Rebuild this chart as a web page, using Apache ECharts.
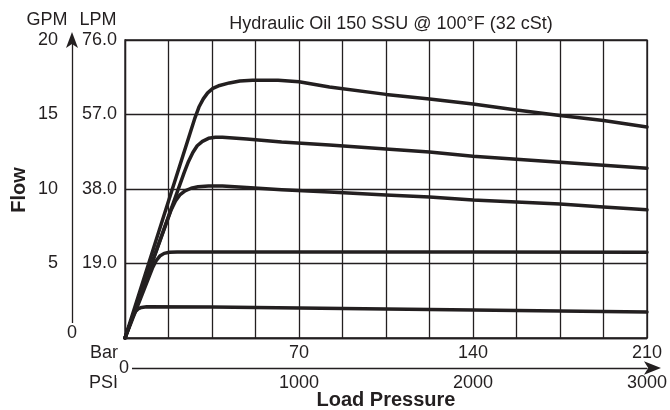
<!DOCTYPE html>
<html>
<head>
<meta charset="utf-8">
<script src="https://cdn.jsdelivr.net/npm/echarts@6/dist/echarts.min.js"></script>
<style>
html,body{margin:0;padding:0;background:#fff;}
#chart{width:670px;height:410px;}
</style>
</head>
<body>
<div id="chart"></div>
<script>
// ---- data (PSI, GPM) ----
const curve1 = [[0,0],[400,14.7],[425,15.5],[450,16.05],[475,16.45],[505,16.75],[544,16.95],[600,17.12],[660,17.25],[733,17.3],[880,17.3],[1000,17.2],[1175,16.85],[1500,16.35],[1750,16.04],[2000,15.7],[2250,15.3],[2500,14.93],[2750,14.6],[3000,14.16]];
const curve2 = [[0,0],[340,11.1],[365,11.85],[390,12.45],[415,12.9],[445,13.2],[480,13.4],[520,13.47],[560,13.47],[700,13.35],[900,13.15],[1175,12.95],[1500,12.68],[1750,12.48],[2000,12.2],[2250,12.0],[2500,11.8],[2750,11.6],[3000,11.4]];
const curve3 = [[0,0],[265,8.6],[290,9.2],[315,9.6],[345,9.88],[380,10.05],[420,10.15],[480,10.2],[560,10.2],[700,10.1],[900,9.95],[1175,9.8],[1500,9.6],[1750,9.46],[2000,9.26],[2250,9.13],[2500,8.99],[2750,8.8],[3000,8.6]];
const curve4 = [[0,0],[160,4.75],[180,5.2],[200,5.5],[225,5.68],[255,5.76],[300,5.78],[1000,5.78],[2000,5.77],[3000,5.75]];
const curve5 = [[0,0],[45,1.45],[60,1.78],[75,1.95],[95,2.05],[125,2.1],[500,2.08],[1000,2.02],[1500,1.95],[2000,1.88],[2500,1.82],[3000,1.75]];

const gpmTicks = ['0','5','10','15','20'];
const lpmTicks = ['','19.0','38.0','57.0','76.0'];
const barTicks = ['','70','140','210'];
const psiTicks = ['','1000','2000','3000'];

const INK = '#231f20';
const FONT = '"Liberation Sans", Arial, Helvetica, sans-serif';
const FS = 18;

const chart = echarts.init(document.getElementById('chart'), null, {renderer:'canvas'});

function mkSeries(d){
  return {type:'line', data:d, xAxisIndex:0, yAxisIndex:0, showSymbol:false, symbol:'none',
    smooth:false, lineStyle:{color:INK, width:3.5, join:'round', cap:'round'}, silent:true, animation:false};
}

const option = {
  animation:false,
  backgroundColor:'#fff',
  textStyle:{fontFamily:FONT, color:INK},
  title:{text:'Hydraulic Oil 150 SSU @ 100°F (32 cSt)', left:386, top:10, textAlign:'center',
    textStyle:{fontFamily:FONT, fontSize:FS, fontWeight:'normal', color:INK}},
  grid:{left:125, right:22, top:40, bottom:72, show:true, borderColor:INK, borderWidth:1.3, containLabel:false},
  xAxis:[
    {type:'value', min:0, max:3000, interval:250, position:'bottom',
      axisLine:{show:true, lineStyle:{color:INK, width:1.3}}, axisTick:{show:false}, axisLabel:{show:false},
      splitLine:{show:true, lineStyle:{color:INK, width:1.3}}},
    {type:'value', min:0, max:3000, interval:1000, position:'bottom', offset:30,
      axisLine:{show:true, onZero:false, symbol:['none','arrow'], symbolSize:[10,17], symbolOffset:[0,14], lineStyle:{color:INK, width:1.3}},
      axisTick:{show:false}, splitLine:{show:false},
      axisLabel:{inside:true, margin:6, fontSize:FS, color:INK, fontFamily:FONT,
        formatter:function(v){return barTicks[Math.round(v/1000)];}}},
    {type:'value', min:0, max:3000, interval:1000, position:'bottom', offset:30,
      axisLine:{show:false}, axisTick:{show:false}, splitLine:{show:false},
      axisLabel:{margin:6, fontSize:FS, color:INK, fontFamily:FONT,
        formatter:function(v){return psiTicks[Math.round(v/1000)];}}}
  ],
  yAxis:[
    {type:'value', min:0, max:20, interval:5, position:'left',
      axisLine:{show:true, lineStyle:{color:INK, width:1.3}}, axisTick:{show:false},
      axisLabel:{margin:8, fontSize:FS, color:INK, fontFamily:FONT,
        formatter:function(v){return lpmTicks[Math.round(v/5)];}},
      splitLine:{show:true, lineStyle:{color:INK, width:1.3}}},
    {type:'value', min:0, max:20, interval:5, position:'left', offset:53,
      axisLine:{show:true, onZero:false, symbol:['none','arrow'], symbolSize:[9,16], symbolOffset:[0,8], lineStyle:{color:INK, width:1.3}},
      axisTick:{show:false}, splitLine:{show:false},
      axisLabel:{margin:14, fontSize:FS, color:INK, fontFamily:FONT,
        formatter:function(v){var i=Math.round(v/5); return i===0?'':gpmTicks[i];}}}
  ],
  graphic:[
    {type:'text', x:47, y:20, style:{text:'GPM', font:FS+'px '+FONT, fill:INK, align:'center', verticalAlign:'middle'}},
    {type:'text', x:98, y:20, style:{text:'LPM', font:FS+'px '+FONT, fill:INK, align:'center', verticalAlign:'middle'}},
    {type:'text', x:72, y:333, z:100, style:{text:gpmTicks[0], font:FS+'px '+FONT, fill:INK, align:'center', verticalAlign:'middle', backgroundColor:'#fff', padding:[1,2]}},
    {type:'text', x:124, y:368, z:100, style:{text:'0', font:FS+'px '+FONT, fill:INK, align:'center', verticalAlign:'middle', backgroundColor:'#fff', padding:[1,3]}},
    {type:'text', x:118, y:353, style:{text:'Bar', font:FS+'px '+FONT, fill:INK, align:'right', verticalAlign:'middle'}},
    {type:'text', x:118, y:383, style:{text:'PSI', font:FS+'px '+FONT, fill:INK, align:'right', verticalAlign:'middle'}},
    {type:'text', x:19, y:190, rotation:Math.PI/2, style:{text:'Flow', font:'bold 20px '+FONT, fill:INK, align:'center', verticalAlign:'middle'}},
    {type:'text', x:386, y:400, style:{text:'Load Pressure', font:'bold 20px '+FONT, fill:INK, align:'center', verticalAlign:'middle'}}
  ],
  series:[mkSeries(curve1), mkSeries(curve2), mkSeries(curve3), mkSeries(curve4), mkSeries(curve5)]
};
chart.setOption(option);
</script>
</body>
</html>
